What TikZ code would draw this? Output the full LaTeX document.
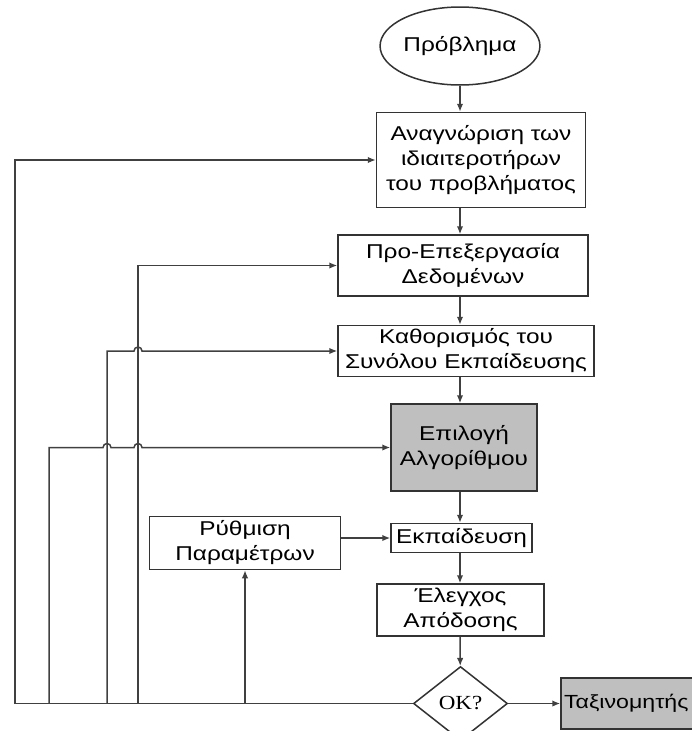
\documentclass[tikz,border=0pt]{standalone}
\usepackage{fontspec}
\setmainfont{Liberation Sans}[FakeStretch=1.22]
\newfontfamily\okfont{Liberation Serif}[FakeStretch=1.15]
\usepackage{tikz}
\usetikzlibrary{arrows.meta, positioning, shapes.geometric, calc}
\tikzset{%
	box/.style={draw=black!80, line width=1.5pt, rectangle, align=center,%
		inner sep=1pt, font=\fontsize{20}{25}\selectfont},
	grbox/.style={box, fill=black!25},
	start/.style={draw=black!80, line width=1.5pt, ellipse, inner sep=0pt,%
		minimum width=136pt, minimum height=78pt, font=\fontsize{20}{25}\selectfont},
	test/.style={draw=black!80, line width=1.5pt, diamond, inner sep=0pt,%
		minimum width=94pt, minimum height=74pt, font=\okfont\fontsize{20}{24}\selectfont},
	sel/.style={-{Latex[length=8pt,width=6.5pt]}, line width=1.5pt, draw=black!75}
}
\begin{document}
\begin{tikzpicture}[x=1pt, y=1pt]
	\useasboundingbox (0,0) rectangle (691,-731);
	\node[start] (prob) at (460,-46) {Πρόβλημα};
	\node[box, minimum width=209pt, minimum height=95pt] (feat) [below=26pt of prob, xshift=21pt] {Αναγνώριση των\\ιδιαιτεροτήρων\\του προβλήματος};
	\node[box, minimum width=250pt, minimum height=61pt] (prep) [below=26pt of feat, xshift=-18pt] {Προ-Επεξεργασία\\Δεδομένων};
	\node[box, minimum width=256pt, minimum height=51pt] (tset) [below=28pt of prep, xshift=3pt] {Καθορισμός του\\Συνόλου Εκπαίδευσης};
	\node[grbox, minimum width=146pt, minimum height=87pt] (alg) [below=26pt of tset, xshift=-2pt] {Επιλογή\\Αλγορίθμου};
	\node[box, minimum width=141pt, minimum height=29pt] (train) [below=31pt of alg, xshift=-2.5pt] {Εκπαίδευση};
	\node[box, minimum width=167pt, minimum height=52pt] (eval) [below=30pt of train, xshift=-1pt] {Έλεγχος\\Απόδοσης};
	\node[test] (ok) [below=29pt of eval] {OK?};
	\node[box, minimum width=191pt, minimum height=53pt] (par) [left=49pt of train, yshift=-5pt] {Ρύθμιση\\Παραμέτρων};
	\node[grbox, minimum height=51pt, text width=145pt, align=left, inner sep=3pt,%
		font=\fontsize{19}{24}\selectfont] (clf) [right=52pt of ok] {Ταξινομητής};
	% feedback columns
	\coordinate (l1) at (15,0);
	\coordinate (l2) at (49,0);
	\coordinate (l3) at (107,0);
	\coordinate (l4) at (138,0);
	\draw [sel] (prob) -- (prob |- feat.north);
	\draw [sel] (prob |- feat.south) -- (prob |- prep.north);
	\draw [sel] (prob |- prep.south) -- (prob |- tset.north);
	\draw [sel] (prob |- tset.south) -- (prob |- alg.north);
	\draw [sel] (prob |- alg.south) -- (prob |- train.north);
	\draw [sel] (prob |- train.south) -- (prob |- eval.north);
	\draw [sel] (prob |- eval.south) -- (ok);
	\draw [sel] (par.east |- train) -- (train.west);
	\draw [sel] (ok) -- (clf);
	\draw [sel] (ok.west) -- (ok.west -| l1) |- (feat.west);
	\draw [sel] (ok.west -| l4) |- (prep.west);
	\draw [sel] (ok.west -| l3) -- (l3 |- tset.west) -- ([xshift=-4pt]l4 |- tset.west)
		arc[start angle=180, end angle=0, radius=4pt] -- (tset.west);
	\draw [sel] (ok.west -| l2) -- (l2 |- alg.west) -- ([xshift=-4pt]l3 |- alg.west)
		arc[start angle=180, end angle=0, radius=4pt] -- ([xshift=-4pt]l4 |- alg.west)
		arc[start angle=180, end angle=0, radius=4pt] -- (alg.west);
	\draw [sel] (ok.west -| par) -- (par.south);
\end{tikzpicture}
\end{document}
